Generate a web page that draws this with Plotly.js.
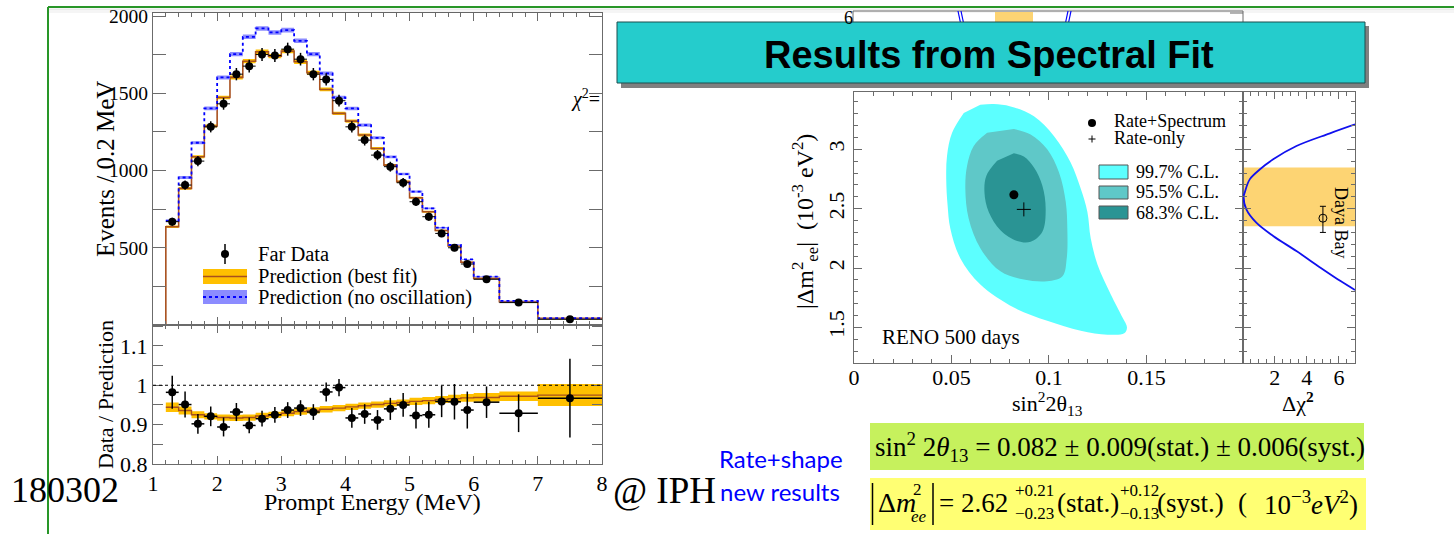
<!DOCTYPE html>
<html>
<head>
<meta charset="utf-8">
<script src="https://cdn.plot.ly/plotly-3.0.1.min.js"></script>
<style>html,body{margin:0;padding:0;background:#fff;}#chart{width:1454px;height:534px;}</style>
</head>
<body>
<div id="chart"></div>
<script>
// ---------------- DATA ----------------
// Energy spectrum (RENO far detector), bins in MeV
const binEdges = [1.2,1.4,1.6,1.8,2.0,2.2,2.4,2.6,2.8,3.0,3.2,3.4,3.6,3.8,4.0,4.2,4.4,4.6,4.8,5.0,5.2,5.4,5.6,5.8,6.0,6.4,7.0,8.0];
const binCenters = [1.3,1.5,1.7,1.9,2.1,2.3,2.5,2.7,2.9,3.1,3.3,3.5,3.7,3.9,4.1,4.3,4.5,4.7,4.9,5.1,5.3,5.5,5.7,5.9,6.2,6.7,7.5];
const farData    = [669,906,1061,1283,1432,1624,1676,1751,1745,1786,1721,1624,1590,1452,1283,1197,1100,1025,921,798,701,593,500,395,296,145,37];
const farDataErr = [26,30,33,36,38,40,41,42,42,42,41,40,40,38,36,35,33,32,30,28,26,24,22,20,12,7,4];
const predBestFit = [636,884,1089,1288,1473,1603,1708,1769,1741,1773,1704,1633,1525,1370,1320,1230,1143,1035,928,824,733,612,511,406,302,151,43];
const predBestBand = [8,9,10,10,12,13,14,14,14,14,14,13,12,11,11,10,9,8,7,7,6,5,5,4,3,2,1];
const predNoOsc  = [675,955,1180,1402,1603,1754,1866,1920,1894,1909,1840,1754,1629,1473,1402,1294,1212,1089,977,863,755,630,518,425,313,156,44];
const predNoOscBand = [7,9,10,12,13,14,15,15,15,15,15,14,13,12,11,10,10,9,8,7,6,5,4,3,3,2,1];
const eventTickVals = [500,1000,1500,2000];
const eventMinorVals = [250,750,1250,1750];

// Ratio panel (data / no-oscillation prediction)
const ratioData = [0.982,0.951,0.902,0.921,0.894,0.932,0.898,0.915,0.925,0.937,0.942,0.932,0.983,0.994,0.917,0.927,0.912,0.940,0.950,0.923,0.925,0.959,0.958,0.937,0.957,0.929,0.967];
const ratioErr  = [0.042,0.033,0.025,0.025,0.024,0.023,0.02,0.02,0.02,0.02,0.02,0.02,0.024,0.022,0.025,0.025,0.025,0.028,0.03,0.033,0.033,0.04,0.045,0.047,0.04,0.048,0.1];
const ratioFit  = [0.944,0.936,0.925,0.921,0.918,0.917,0.918,0.922,0.925,0.929,0.933,0.936,0.939,0.942,0.945,0.948,0.951,0.954,0.956,0.959,0.961,0.964,0.966,0.968,0.969,0.972,0.975];
const ratioBand = [0.012,0.01,0.009,0.008,0.008,0.008,0.008,0.008,0.008,0.008,0.008,0.008,0.008,0.008,0.008,0.008,0.008,0.008,0.008,0.009,0.009,0.009,0.01,0.01,0.011,0.012,0.028];
const ratioRef = 1.0;

// Allowed regions in (sin^2 2theta13, |dm^2_ee| [1e-3 eV^2])
const cl997X = [0.0648,0.0717,0.0803,0.0923,0.1026,0.1111,0.1163,0.1197,0.1214,0.1249,0.1317,0.1377,0.1400,0.1386,0.1300,0.1163,0.0991,0.0820,0.0648,0.0545,0.0494,0.0480,0.0473,0.0477,0.0503,0.0563];
const cl997Y = [3.375,3.381,3.361,3.278,3.111,2.889,2.667,2.472,2.250,2.028,1.778,1.583,1.500,1.450,1.439,1.472,1.556,1.667,1.861,2.083,2.333,2.528,2.750,2.944,3.139,3.306];
const cl955X = [0.0820,0.0906,0.0991,0.1051,0.1086,0.1094,0.1091,0.1069,0.0991,0.0871,0.0751,0.0648,0.0588,0.0571,0.0580,0.0614,0.0683];
const cl955Y = [3.172,3.125,3.000,2.806,2.556,2.333,2.083,1.931,1.889,1.903,1.972,2.167,2.417,2.667,2.861,3.028,3.139];
const cl683X = [0.0820,0.0871,0.0923,0.0966,0.0983,0.0966,0.0906,0.0837,0.0751,0.0691,0.0669,0.0679,0.0734];
const cl683Y = [2.967,2.939,2.847,2.694,2.500,2.306,2.222,2.228,2.319,2.472,2.639,2.778,2.903];
const bestFitPoint = {x:[0.082], y:[2.617]};
const rateOnlyPoint = {x:[0.0871], y:[2.494]};

// Delta chi^2 profile vs |dm^2_ee|
const dchi2 = [7.0,5.44,3.35,1.9,1.06,0.44,0.125,0.06,0.23,0.85,1.9,3.35,4.85,6.1,7.0];
const dchi2Dm = [3.21,3.135,3.028,2.916,2.83,2.747,2.635,2.60,2.494,2.382,2.27,2.143,2.003,1.89,1.815];
const dayaBayBand = [2.351, 2.848];
const dayaBayPoint = {x:[5.0], y:[2.42], up:[0.10], down:[0.12]};

// ---------------- STYLE / HELPERS ----------------
const W = 1454, H = 534;
const px = x => x / W, py = y => 1 - y / H;
const SERIF = 'Liberation Serif, Times New Roman, serif';
const SANS = 'Liberation Sans, Arial, sans-serif';
const FR = '#6b6b6b';
const BROWN = '#a8501e', ORANGE = '#ffc000', BLUE = '#0000ff', LBLUE = '#8c8cff';

const last = a => a[a.length - 1];
const stepX = [1.0].concat(binEdges);
const stepY = vals => [0].concat(vals, [last(vals)]);
const bandY = (vals, band, sign) => vals.map((v, i) => v + sign * band[i]).concat([last(vals) + sign * last(band)]);
const halfW = binCenters.map((c, i) => (binEdges[i + 1] - binEdges[i]) / 2);

const traces = [];
function band(vals, bw, color, xa, ya) {
  traces.push({x: binEdges, y: bandY(vals, bw, -1), xaxis: xa, yaxis: ya, mode: 'lines', line: {width: 0, shape: 'hv'}, hoverinfo: 'skip', showlegend: false});
  traces.push({x: binEdges, y: bandY(vals, bw, 1), xaxis: xa, yaxis: ya, mode: 'lines', line: {width: 0, shape: 'hv'}, fill: 'tonexty', fillcolor: color, hoverinfo: 'skip', showlegend: false});
}
// top panel
band(predBestFit, predBestBand, ORANGE, 'x', 'y');
traces.push({x: stepX, y: stepY(predBestFit), xaxis: 'x', yaxis: 'y', mode: 'lines', line: {color: BROWN, width: 1.6, shape: 'hv'}, showlegend: false});
band(predNoOsc, predNoOscBand, LBLUE, 'x', 'y');
traces.push({x: binEdges, y: predNoOsc.concat([last(predNoOsc)]), xaxis: 'x', yaxis: 'y', mode: 'lines', line: {color: BLUE, width: 1.8, dash: 'dot', shape: 'hv'}, showlegend: false});
traces.push({x: binCenters, y: farData, xaxis: 'x', yaxis: 'y', mode: 'markers', marker: {color: '#000', size: 8},
  error_y: {type: 'data', array: farDataErr, color: '#000', thickness: 1.5, width: 0},
  error_x: {type: 'data', array: halfW, color: '#000', thickness: 1, width: 0}, showlegend: false});
// ratio panel
band(ratioFit, ratioBand, ORANGE, 'x2', 'y2');
traces.push({x: binEdges, y: ratioFit.concat([last(ratioFit)]), xaxis: 'x2', yaxis: 'y2', mode: 'lines', line: {color: BROWN, width: 1.4, shape: 'hv'}, showlegend: false});
traces.push({x: binCenters, y: ratioData, xaxis: 'x2', yaxis: 'y2', mode: 'markers', marker: {color: '#000', size: 8},
  error_y: {type: 'data', array: ratioErr, color: '#000', thickness: 1.5, width: 0},
  error_x: {type: 'data', array: halfW, color: '#000', thickness: 1.5, width: 0}, showlegend: false});
// contours
const CYAN = 'rgb(92,255,255)', MED = 'rgb(95,200,200)', DARK = 'rgb(42,148,148)';
[[cl997X, cl997Y, CYAN], [cl955X, cl955Y, MED], [cl683X, cl683Y, DARK]].forEach(([x, y, c]) => {
  traces.push({x: x, y: y, xaxis: 'x3', yaxis: 'y3', mode: 'lines', fill: 'toself', fillcolor: c, line: {width: 0, shape: 'spline', smoothing: 1}, showlegend: false});
});
traces.push({x: bestFitPoint.x, y: bestFitPoint.y, xaxis: 'x3', yaxis: 'y3', mode: 'markers', marker: {color: '#000', size: 9}, showlegend: false});
traces.push({x: rateOnlyPoint.x, y: rateOnlyPoint.y, xaxis: 'x3', yaxis: 'y3', mode: 'markers', marker: {symbol: 'cross-thin', size: 10, line: {color: '#000', width: 1}}, showlegend: false});
// delta chi2
traces.push({x: dchi2, y: dchi2Dm, xaxis: 'x4', yaxis: 'y4', mode: 'lines', line: {color: '#1010ee', width: 1.8, shape: 'spline'}, showlegend: false});
traces.push({x: dayaBayPoint.x, y: dayaBayPoint.y, xaxis: 'x4', yaxis: 'y4', mode: 'markers',
  marker: {symbol: 'circle-open', size: 8, color: '#000', line: {width: 1}},
  error_y: {type: 'data', symmetric: false, array: dayaBayPoint.up, arrayminus: dayaBayPoint.down, color: '#000', thickness: 1, width: 3}, showlegend: false});

const axBase = {showline: true, linecolor: FR, linewidth: 1, mirror: 'ticks', ticks: 'inside', tickcolor: FR, showgrid: false, zeroline: false,
  tickfont: {family: SERIF, size: 22, color: '#000'}};

// ---------------- SHAPES ----------------
const shapes = [];
const rect = (x0, y0, x1, y1, fill, line, lw) => shapes.push({type: 'rect', xref: 'paper', yref: 'paper', x0: px(x0), x1: px(x1), y0: py(y0), y1: py(y1), fillcolor: fill, line: {color: line || fill, width: lw || 0}, layer: 'above'});
const seg = (x0, y0, x1, y1, color, w, dash) => shapes.push({type: 'line', xref: 'paper', yref: 'paper', x0: px(x0), x1: px(x1), y0: py(y0), y1: py(y1), line: {color: color, width: w, dash: dash || 'solid'}, layer: 'above'});

// reference line in ratio
shapes.push({type: 'line', xref: 'x2 domain', yref: 'y2', x0: 0, x1: 1, y0: ratioRef, y1: ratioRef, line: {color: '#000', width: 1, dash: 'dot'}, layer: 'above'});
// Daya Bay band
shapes.push({type: 'rect', xref: 'x4 domain', yref: 'y4', x0: 0, x1: 1, y0: dayaBayBand[0], y1: dayaBayBand[1], fillcolor: 'rgba(253,205,90,0.85)', line: {width: 0}, layer: 'below'});

// slide decorations: green frame lines
seg(48, 7, 1454, 7, 'rgb(40,150,40)', 2);
seg(48, 7, 48, 534, 'rgb(40,150,40)', 2);
seg(49, 9.5, 1454, 9.5, 'rgba(0,0,0,0.08)', 2);
seg(49, 12, 1454, 12, 'rgba(0,0,0,0.04)', 2);
// remnant of plot behind the banner
seg(853, 11, 1243, 11, FR, 1);
seg(853, 11, 853, 30, FR, 1);
seg(1243, 11, 1243, 30, FR, 1);
seg(1243, 13, 1230, 13, FR, 1);
rect(995, 12, 1033, 30, 'rgba(253,205,90,0.85)');
seg(958, 11, 962, 30, BLUE, 1.2); seg(961, 11, 965, 30, BLUE, 1.2);
seg(1068, 11, 1064, 30, BLUE, 1.2); seg(1071, 11, 1067, 30, BLUE, 1.2);
// banner
rect(621, 26, 1369, 88, '#808080');
rect(617, 22, 1365, 83, '#25cccc', '#1d4f4f', 1);
// top legend symbols
shapes.push({type: 'circle', xref: 'paper', yref: 'paper', x0: px(221), x1: px(229), y0: py(250), y1: py(258), fillcolor: '#000', line: {width: 0}, layer: 'above'});
seg(225, 244, 225, 264, '#000', 1.5);
rect(203, 269, 247, 284, ORANGE);
seg(203, 276.5, 247, 276.5, BROWN, 1.5);
rect(203, 290, 247, 304, LBLUE);
seg(203, 297, 247, 297, BLUE, 2, 'dot');
// contour legend symbols
shapes.push({type: 'circle', xref: 'paper', yref: 'paper', x0: px(1088), x1: px(1096), y0: py(119), y1: py(127), fillcolor: '#000', line: {width: 0}, layer: 'above'});
seg(1088.5, 139, 1095.5, 139, '#000', 1); seg(1092, 135.5, 1092, 142.5, '#000', 1);
rect(1099, 165, 1128, 179, CYAN, '#555', 1);
rect(1099, 186, 1128, 199, MED, '#555', 1);
rect(1099, 206, 1128, 219, DARK, '#555', 1);
// result boxes
rect(870, 423, 1364, 470, '#c6f15d');
rect(870, 478, 1366, 530, '#ffff73');
seg(872.5, 483, 872.5, 525, '#000', 1.5);
seg(933, 483, 933, 525, '#000', 1.5);

// ---------------- ANNOTATIONS ----------------
const annotations = [];
function ann(text, x, y, size, o) {
  o = o || {};
  annotations.push({text: text, x: px(x), y: py(y), xref: 'paper', yref: 'paper', showarrow: false,
    xanchor: o.xa || 'left', yanchor: o.ya || 'middle', textangle: o.angle || 0,
    font: {family: o.family || SERIF, size: size, color: o.color || '#000'}});
}
ann('Events / 0.2 MeV', 105, 169, 25, {xa: 'center', angle: -90});
ann('Data / Prediction', 105, 395, 22, {xa: 'center', angle: -90});
ann('Prompt Energy (MeV)', 373, 502, 24, {xa: 'center'});
ann('Far Data', 256, 254, 20.5);
ann('Prediction (best fit)', 256, 276, 20.5);
ann('Prediction (no oscillation)', 256, 297, 20.5);
ann('<i>χ</i><sup>2</sup>=', 569, 98, 20);
ann('6', 848, 18, 18, {xa: 'center'});
ann('Rate+Spectrum', 1112, 121, 18);
ann('Rate-only', 1112, 138, 18);
ann('99.7% C.L.', 1134, 172, 18);
ann('95.5% C.L.', 1134, 192, 18);
ann('68.3% C.L.', 1134, 213, 18);
ann('RENO 500 days', 880, 337, 21);
ann('|Δm<sup>2</sup><sub>ee</sub>|  (10<sup>-3</sup> eV<sup>2</sup>)', 805, 222, 24, {xa: 'center', angle: -90});
ann('sin<sup>2</sup>2θ<sub>13</sub>', 1047, 403, 22, {xa: 'center'});
ann('Δχ<sup><b>2</b></sup>', 1298, 402, 22, {xa: 'center'});
ann('Daya Bay', 1341, 222, 18, {xa: 'center', angle: 90});
ann('<b>Results from Spectral Fit</b>', 989, 55, 38, {xa: 'center', family: SANS});
ann('180302', 9, 490, 36);
ann('@ IPH', 611, 490, 37);
ann('Rate+shape', 717, 458, 24, {family: 'Lato, Carlito, Calibri, sans-serif', color: '#0000ff'});
ann('new results', 718, 491, 24, {family: 'Lato, Carlito, Calibri, sans-serif', color: '#0000ff'});
ann('sin<sup>2</sup> 2<i>θ</i><sub>13</sub> = 0.082 ± 0.009(stat.) ± 0.006(syst.)', 873, 447, 27);
ann('Δ<i>m</i>', 876, 502, 28);
ann('2', 911, 489, 17);
ann('<i>ee</i>', 909, 516, 17);
ann('= 2.62', 937, 503, 27);
ann('+0.21', 1013, 490, 17);
ann('−0.23', 1013, 513, 17);
ann('(stat.)', 1055, 503, 27);
ann('+0.12', 1118, 490, 17);
ann('−0.13', 1118, 513, 17);
ann('(syst.)', 1155, 503, 27);
ann('(', 1236, 503, 27);
ann('10<sup>−3</sup><i>eV</i><sup>2</sup>)', 1262, 503, 27);

// ---------------- LAYOUT ----------------
const layout = {
  width: W, height: H, margin: {l: 0, r: 0, t: 0, b: 0}, paper_bgcolor: '#fff', plot_bgcolor: 'rgba(0,0,0,0)', showlegend: false,
  xaxis: Object.assign({}, axBase, {domain: [px(153), px(602)], range: [1, 8], anchor: 'y', dtick: 1, tick0: 1, ticklen: 8, showticklabels: false,
    minor: {ticks: 'inside', dtick: 0.2, tick0: 1, ticklen: 4, tickcolor: FR}}),
  yaxis: Object.assign({}, axBase, {domain: [py(325), py(13)], range: [0, 2020], anchor: 'x', tickmode: 'array', tickvals: eventTickVals,
    ticklen: 13, tickfont: {family: SERIF, size: 19.5, color: '#000'},
    minor: {ticks: 'inside', tickmode: 'array', tickvals: eventMinorVals, ticklen: 13, tickcolor: FR}}),
  xaxis2: Object.assign({}, axBase, {domain: [px(153), px(602)], range: [1, 8], anchor: 'y2', dtick: 1, tick0: 1, ticklen: 8,
    minor: {ticks: 'inside', dtick: 0.2, tick0: 1, ticklen: 4, tickcolor: FR}}),
  yaxis2: Object.assign({}, axBase, {domain: [py(464), py(325)], range: [0.8, 1.153], anchor: 'x2', dtick: 0.1, tick0: 0.8, ticklen: 10,
    minor: {ticks: 'inside', dtick: 0.05, tick0: 0.8, ticklen: 10, tickcolor: FR}}),
  xaxis3: Object.assign({}, axBase, {domain: [px(854), px(1243)], range: [0, 0.1995], anchor: 'y3', dtick: 0.05, tick0: 0, ticklen: 8, ticklabelstandoff: -5,
    minor: {ticks: 'inside', dtick: 0.01, tick0: 0, ticklen: 4, tickcolor: FR}}),
  yaxis3: Object.assign({}, axBase, {domain: [py(363), py(92)], range: [1.2, 3.483], anchor: 'x3', dtick: 0.5, tick0: 0, ticklen: 8, tickangle: -90,
    minor: {ticks: 'inside', dtick: 0.1, tick0: 0, ticklen: 4, tickcolor: FR}}),
  xaxis4: Object.assign({}, axBase, {domain: [px(1243), px(1355)], range: [0.02, 7], anchor: 'y4', dtick: 2, tick0: 0, ticklen: 7, ticklabelstandoff: -5,
    minor: {ticks: 'inside', dtick: 0.5, tick0: 0, ticklen: 4, tickcolor: FR}}),
  yaxis4: Object.assign({}, axBase, {domain: [py(363), py(92)], range: [1.2, 3.483], anchor: 'x4', dtick: 0.5, tick0: 0, ticklen: 8, showticklabels: false,
    minor: {ticks: 'inside', dtick: 0.1, tick0: 0, ticklen: 4, tickcolor: FR}}),
  shapes: shapes,
  annotations: annotations
};

Plotly.newPlot('chart', traces, layout, {displayModeBar: false, staticPlot: true});
</script>
</body>
</html>
